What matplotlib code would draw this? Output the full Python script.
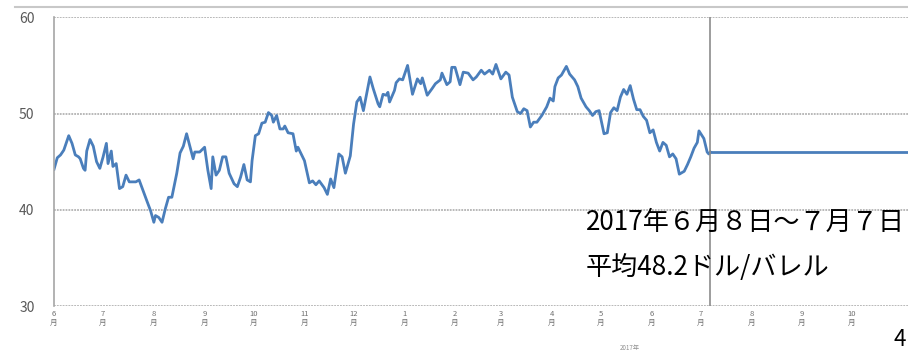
import matplotlib.pyplot as plt
from matplotlib.lines import Line2D

plt.rcParams['font.family'] = ['Noto Sans CJK JP', 'DejaVu Sans']

# days since 2016-06-01, and price (USD/bbl)
days = [0, 2, 4, 6, 8, 9, 11, 13, 15, 16, 18, 19, 20, 22, 24, 26, 28, 30, 32, 33,
        35, 36, 38, 40, 42, 44, 46, 50, 52, 55, 57, 59, 61, 62, 64, 66, 68, 70, 72, 75,
        77, 79, 81, 83, 85, 86, 89, 92, 94, 96, 97, 99, 101, 103, 105, 107, 110, 112, 114, 116,
        118, 120, 121, 123, 125, 127, 129, 131, 133, 134, 136, 138, 140, 141, 143, 146, 148, 149, 153, 156,
        158, 160, 162, 165, 167, 169, 171, 174, 176, 178, 181, 183, 185, 187, 189, 193, 195, 198, 199, 201,
        203, 204, 205, 208, 209, 211, 213, 214, 216, 219, 222, 224, 225, 228, 231, 233, 236, 237, 240, 242,
        243, 245, 248, 250, 253, 256, 258, 261, 263, 266, 268, 270, 273, 276, 278, 280, 283, 285, 287, 289,
        291, 293, 295, 298, 301, 303, 305, 306, 308, 310, 313, 315, 318, 320, 322, 325, 327, 329, 331, 333,
        336, 338, 340, 342, 344, 346, 348, 350, 352, 354, 356, 358, 360, 362, 364, 366, 368, 370, 372, 374,
        376, 378, 380, 382, 385, 387, 389, 391, 393, 394, 397, 399, 400, 401]
price = [44.2, 45.4, 45.7, 46.2, 47.2, 47.7, 46.9, 45.7, 45.5, 45.3, 44.3, 44.1, 46.1, 47.3, 46.6, 45.0, 44.3, 45.5, 46.9, 44.8,
         46.1, 44.5, 44.8, 42.2, 42.4, 43.6, 42.9, 42.9, 43.1, 41.7, 40.8, 39.9, 38.7, 39.4, 39.2, 38.7, 40.1, 41.3, 41.3, 43.8,
         45.9, 46.6, 47.9, 46.6, 45.3, 46.0, 46.0, 46.5, 44.1, 42.2, 45.5, 43.6, 44.1, 45.5, 45.5, 43.8, 42.7, 42.4, 43.4, 44.7,
         43.1, 42.9, 45.1, 47.7, 47.9, 49.0, 49.1, 50.1, 49.8, 49.1, 49.8, 48.4, 48.4, 48.7, 48.0, 47.9, 46.1, 46.5, 45.1, 42.8,
         43.0, 42.6, 43.0, 42.3, 41.6, 43.2, 42.3, 45.8, 45.5, 43.8, 45.6, 48.9, 51.2, 51.7, 50.3, 53.8, 52.6, 51.0, 50.7, 52.0,
         51.9, 52.2, 51.2, 52.4, 53.2, 53.6, 53.5, 54.0, 55.0, 52.0, 53.6, 53.1, 53.7, 51.9, 52.6, 53.1, 53.5, 54.2, 53.0, 53.3,
         54.8, 54.8, 53.0, 54.3, 54.2, 53.5, 53.8, 54.5, 54.1, 54.5, 54.1, 55.1, 53.6, 54.3, 54.0, 51.7, 50.2, 50.0, 50.5, 50.3,
         48.6, 49.1, 49.1, 49.8, 50.7, 51.6, 51.3, 52.8, 53.7, 54.0, 54.9, 54.1, 53.5, 52.8, 51.6, 50.7, 50.3, 49.8, 50.2, 50.3,
         47.9, 48.0, 50.1, 50.6, 50.3, 51.7, 52.5, 52.0, 52.9, 51.5, 50.4, 50.4, 49.7, 49.3, 48.0, 48.3, 47.0, 46.1, 47.0, 46.7,
         45.5, 45.8, 45.3, 43.7, 44.0, 44.7, 45.5, 46.4, 47.0, 48.2, 47.4, 46.0, 45.8, 46.0]

flat_days = [401, 530]
flat_price = [46.0, 46.0]

month_days = [0, 30, 61, 92, 122, 153, 183, 214, 245, 273, 304, 334, 365, 395, 426, 457, 487]
month_labels = ['6', '7', '8', '9', '10', '11', '12', '1', '2', '3', '4', '5', '6', '7', '8', '9', '10']

fig = plt.figure(figsize=(9.08, 3.53), dpi=100)
ax = fig.add_axes([54/908, 1-306/353, 1-54/908, (306-17.3)/353])

line_col = '#4a7ebb'
ax.plot(days, price, color=line_col, lw=2.0, solid_joinstyle='round')
ax.plot(flat_days, flat_price, color=line_col, lw=2.0)
ax.axvline(401, ymin=0, ymax=1, color='#8c8c8c', lw=1.2)

ax.set_xlim(0, 521.7)
ax.set_ylim(30, 60)
ax.set_yticks([30, 40, 50, 60])
for v in [30, 40, 50, 60]:
    ax.axhline(v, color='#b3b3b3', lw=1.3, ls=(0, (1, 0.6)), zorder=0)

for s in ['top', 'right', 'bottom']:
    ax.spines[s].set_visible(False)
ax.spines['left'].set_color('#a6a6a6')
ax.spines['left'].set_linewidth(1.2)

ax.tick_params(axis='y', length=0, pad=14, labelsize=10, labelcolor='#595959')
ax.set_xticks(month_days)
ax.set_xticklabels([m + '\n月' for m in month_labels], fontsize=5.5, color='#707070', linespacing=1.1)
ax.tick_params(axis='x', length=0, pad=3)

ax.text(586/908, 1-222/353, '2017年６月８日～７月７日', transform=fig.transFigure,
        fontsize=18.8, color='black', va='center', ha='left')
ax.text(586/908, 1-267/353, '平均48.2ドル/バレル', transform=fig.transFigure,
        fontsize=18.8, color='black', va='center', ha='left')

fig.text(630/908, 1-348/353, '2017年', fontsize=4.5, color='#909090', ha='center', va='center')
fig.text(893/908, 1-340/353, '4', fontsize=16, color='black', ha='left', va='center')

fig.add_artist(Line2D([15/908, 1], [1-7/353, 1-7/353], transform=fig.transFigure,
                      color='#c8c8c8', lw=1.5))

fig.savefig('out.png', dpi=100)
